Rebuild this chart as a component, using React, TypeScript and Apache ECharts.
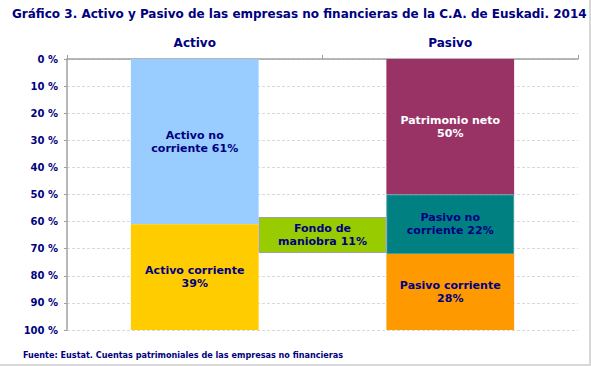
import React, { useEffect, useRef } from 'react';
import * as echarts from 'echarts';

const titleText = 'Gráfico 3. Activo y Pasivo de las empresas no financieras de la C.A. de Euskadi. 2014';
const sourceText = 'Fuente: Eustat. Cuentas patrimoniales de las empresas no financieras';
const categories = ['Activo', 'Pasivo'];
const activoNoCorriente = [61, null];
const activoCorriente = [39, null];
const patrimonioNeto = [null, 50];
const pasivoNoCorriente = [null, 22];
const pasivoCorriente = [null, 28];
const fondoCategories = ['', 'Fondo de maniobra', ''];
const fondoBoxStart = [null, 58.3, null];
const fondoBoxHeight = [null, 13.3, null];
const fondoManiobra = 11;

const NAVY = '#000080';
const FONT = 'DejaVu Sans';

export default function App() {
  const ref = useRef<HTMLDivElement>(null);
  useEffect(() => {
    if (!ref.current) return;
    const chart = echarts.init(ref.current, null, { renderer: 'svg' });
    const lbl = (text: string, color = NAVY) => ({
      show: true,
      position: 'inside',
      formatter: text,
      color,
      fontFamily: FONT,
      fontWeight: 'bold',
      fontSize: 11,
      lineHeight: 13,
      align: 'center',
    });
    chart.setOption({
      animation: false,
      backgroundColor: '#ffffff',
      title: {
        text: titleText,
        left: 7,
        top: 3,
        textStyle: { color: NAVY, fontFamily: FONT, fontWeight: 'bold', fontSize: 12 },
      },
      graphic: [
        {
          type: 'text',
          left: 23,
          top: 350,
          style: { text: sourceText, fill: NAVY, font: `bold 9px "DejaVu Sans Condensed", "${FONT}"` },
        },
        { type: 'line', shape: { x1: 590, y1: 0, x2: 590, y2: 366 }, style: { stroke: '#d8d8d8', lineWidth: 2 } },
        { type: 'line', shape: { x1: 0, y1: 365, x2: 591, y2: 365 }, style: { stroke: '#d8d8d8', lineWidth: 2 } },
      ],
      grid: { left: 67, right: 13, top: 59, bottom: 36 },
      xAxis: [
        {
          type: 'category',
          data: categories,
          position: 'top',
          axisLine: { lineStyle: { color: '#a0a0a0', width: 1.5 } },
          axisTick: { show: true, length: 4, lineStyle: { color: '#a0a0a0' } },
          axisLabel: { color: NAVY, fontFamily: FONT, fontWeight: 'bold', fontSize: 12, margin: 10 },
        },
        {
          type: 'category',
          data: fondoCategories,
          position: 'top',
          show: false,
        },
      ],
      yAxis: {
        type: 'value',
        inverse: true,
        min: 0,
        max: 100,
        interval: 10,
        axisLine: { show: true, lineStyle: { color: '#a0a0a0', width: 1.5 } },
        axisTick: { show: true, length: 3, lineStyle: { color: '#a0a0a0' } },
        axisLabel: {
          formatter: '{value} %',
          color: NAVY,
          fontFamily: FONT,
          fontWeight: 'bold',
          fontSize: 10,
          margin: 9,
        },
        splitLine: { lineStyle: { color: '#d9d9d9', type: [3, 2] } },
      },
      series: [
        {
          type: 'bar', name: 'Activo no corriente', stack: 'm', barWidth: '50%', data: activoNoCorriente,
          itemStyle: { color: '#99ccff' }, label: lbl('Activo no\ncorriente {c}%'),
        },
        {
          type: 'bar', name: 'Activo corriente', stack: 'm', barWidth: '50%', data: activoCorriente,
          itemStyle: { color: '#ffcc00' }, label: lbl('Activo corriente\n{c}%'),
        },
        {
          type: 'bar', name: 'Patrimonio neto', stack: 'm', barWidth: '50%', data: patrimonioNeto,
          itemStyle: { color: '#993366' }, label: lbl('Patrimonio neto\n{c}%', '#ffffff'),
        },
        {
          type: 'bar', name: 'Pasivo no corriente', stack: 'm', barWidth: '50%', data: pasivoNoCorriente,
          itemStyle: { color: '#008080', borderColor: '#3a9a9a', borderWidth: 1 }, label: lbl('Pasivo no\ncorriente {c}%'),
        },
        {
          type: 'bar', name: 'Pasivo corriente', stack: 'm', barWidth: '50%', data: pasivoCorriente,
          itemStyle: { color: '#ff9900' }, label: lbl('Pasivo corriente\n{c}%'),
        },
        {
          type: 'bar', name: 'base', stack: 'f', xAxisIndex: 1, barWidth: '75%', data: fondoBoxStart,
          itemStyle: { color: 'transparent' }, silent: true,
        },
        {
          type: 'bar', name: 'Fondo de maniobra', stack: 'f', xAxisIndex: 1, barWidth: '75%', data: fondoBoxHeight,
          itemStyle: { color: '#99cc00', borderColor: '#a0a0a0', borderWidth: 1 },
          label: lbl(`Fondo de\nmaniobra ${fondoManiobra}%`),
        },
      ],
    });
    return () => chart.dispose();
  }, []);
  return <div ref={ref} style={{ position: 'absolute', left: 0, top: 0, width: 591, height: 366 }} />;
}
